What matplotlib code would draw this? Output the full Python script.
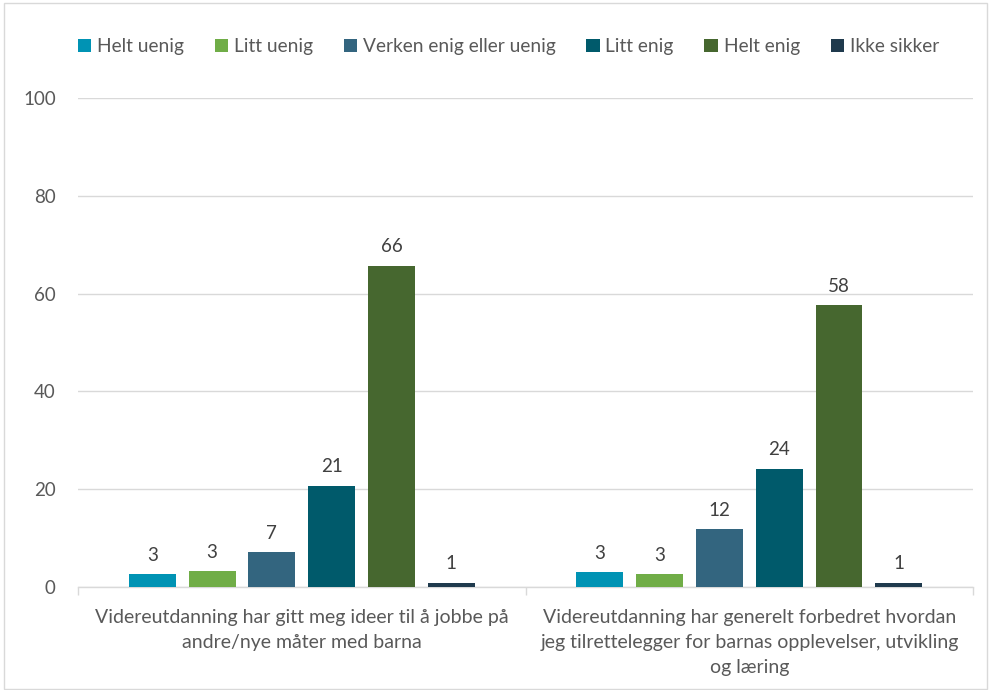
import matplotlib
matplotlib.use("Agg")
import matplotlib.pyplot as plt
from matplotlib.patches import Rectangle
import numpy as np

plt.rcParams["font.family"] = ["Lato", "DejaVu Sans"]

TEXT = "#595959"
GRID = "#D9D9D9"

categories = [
    "Videreutdanning har gitt meg ideer til å jobbe på\nandre/nye måter med barna",
    "Videreutdanning har generelt forbedret hvordan\njeg tilrettelegger for barnas opplevelser, utvikling\nog læring",
]
series_names = ["Helt uenig", "Litt uenig", "Verken enig eller uenig",
                "Litt enig", "Helt enig", "Ikke sikker"]
series_colors = ["#0093B4", "#70AD47", "#33657F", "#005A6B", "#46672F", "#1F3A4D"]

helt_uenig = [2.6, 3.0]
litt_uenig = [3.2, 2.6]
verken = [7.1, 11.8]
litt_enig = [20.6, 24.2]
helt_enig = [65.7, 57.6]
ikke_sikker = [0.9, 0.9]
values = [helt_uenig, litt_uenig, verken, litt_enig, helt_enig, ikke_sikker]

fig = plt.figure(figsize=(9.91, 6.90), dpi=100)
ax = fig.add_axes([0.0787, 0.1493, 0.9033, 0.7087])

x = np.arange(len(categories))
step = 0.1335
width = 0.105
for i, (name, col, vals) in enumerate(zip(series_names, series_colors, values)):
    pos = x + (i - 2.5) * step
    ax.bar(pos, vals, width=width, color=col, label=name, zorder=3)
    for px, v in zip(pos, vals):
        ax.text(px, v + 2.2, f"{v:.0f}", ha="center", va="bottom",
                fontsize=13.5, color="#404040")

ax.set_xlim(-0.5, 1.5)
ax.set_ylim(0, 100)
ax.set_yticks(np.arange(0, 101, 20))
ax.yaxis.grid(True, color=GRID, linewidth=1, zorder=0)
ax.tick_params(axis="y", length=0, labelsize=13.5, labelcolor=TEXT, pad=16)

ax.set_xticks(x)
ax.set_xticklabels(categories, fontsize=14, color=TEXT, linespacing=1.58)
ax.tick_params(axis="x", which="major", length=0, pad=16)
ax.set_xticks([-0.5, 0.5, 1.5], minor=True)
ax.tick_params(axis="x", which="minor", length=6, color=GRID, width=1)

for s in ["left", "right", "top"]:
    ax.spines[s].set_visible(False)
ax.spines["bottom"].set_color(GRID)
ax.spines["bottom"].set_linewidth(1)

fig.legend(loc="center", bbox_to_anchor=(0.513, 0.932), ncol=6, frameon=False,
           fontsize=13.8, labelcolor=TEXT, handlelength=0.7, handleheight=0.7,
           handletextpad=0.3, columnspacing=1.6)

fig.patches.append(Rectangle((0.004, 0.002), 0.992, 0.994, transform=fig.transFigure,
                             fill=False, edgecolor=GRID, linewidth=1))

fig.savefig("out.png", dpi=100)
